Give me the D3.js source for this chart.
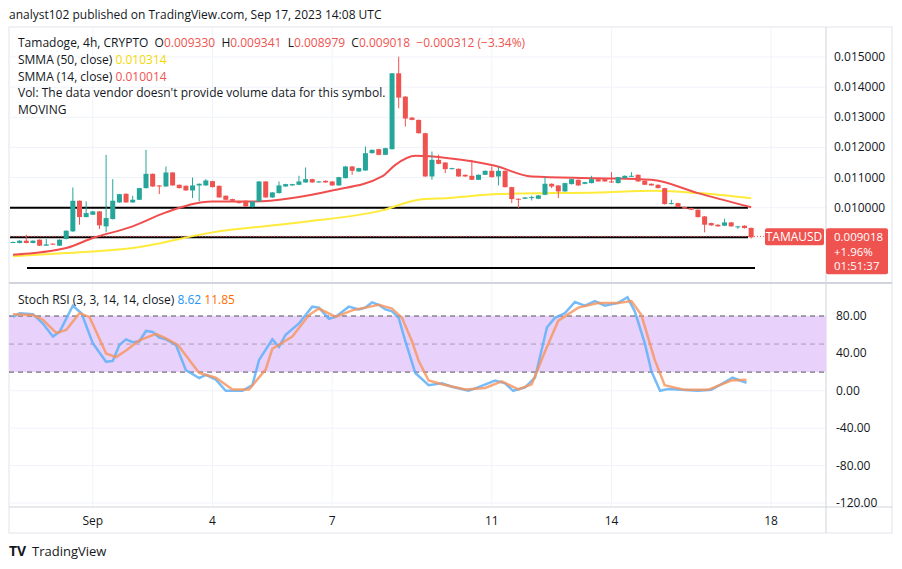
<!DOCTYPE html>
<html>
<head>
<meta charset="utf-8">
<script src="https://cdn.jsdelivr.net/npm/d3@7"></script>
<style>
body { margin: 0; background: #fff; font-family: "Open Sans", "Noto Sans", sans-serif; }
svg text { font-family: "Open Sans", "Noto Sans", sans-serif; }
</style>
</head>
<body>
<svg id="chart" width="902" height="569"></svg>
<script>
// prices in millionths of a dollar, one entry per 4h candle
var openP = [8862,8829,8906,8829,8939,8740,8807,8740,8961,9215,
	10231,9690,9767,9877,9381,9623,10175,10463,10175,10264,
	10650,11125,10739,10705,11169,10761,10727,10573,10739,10739,
	10882,10727,10397,10286,10220,10231,10021,10209,10871,10341,
	10485,10705,10739,10761,10838,10948,10838,10893,10871,10739,
	10981,11368,11202,11235,11809,11942,11754,11942,14459,13686,
	12991,12913,12472,11037,11589,11500,11279,11291,11092,11059,
	10926,11092,11224,11037,11224,10683,10297,10297,10319,10297,
	10429,10794,10739,10540,10783,10926,10793,10816,10948,10948,
	10871,10816,10981,11037,11092,10893,10794,10761,10650,10120,
	10153,10021,9988,9933,9712,9491,9436,9403,9513,9359,
	9403,9330];
var closeP = [8862,8906,8829,8906,8740,8784,8773,8939,9237,10231,
	9690,9822,9877,9414,9657,10231,10451,10175,10264,10650,
	11125,10705,10705,11169,10739,10650,10573,10739,10794,10904,
	10683,10341,10264,10231,10153,10043,10209,10871,10341,10507,
	10739,10783,10783,10871,10948,10838,10871,10838,10739,11015,
	11368,11224,11313,11809,11920,11754,11975,14459,13653,12958,
	12913,12472,11037,11589,11456,11279,11313,11037,11037,10926,
	11092,11224,11015,11224,10683,10286,10264,10341,10352,10407,
	10794,10705,10540,10816,10948,10739,10849,10948,10871,10871,
	10838,11015,11059,11059,10871,10761,10739,10650,10120,10153,
	10021,9966,9933,9690,9436,9414,9381,9513,9381,9381,
	9325,9018];
var highP = [8880,8920,9105,8915,8950,8961,8815,8950,9250,10672,
	10240,10209,9890,9890,11754,10948,10460,10475,10396,10660,
	11920,11135,10750,11368,11180,10770,10740,11003,10805,10948,
	10895,10740,10410,10300,10230,10240,10220,10880,10880,10520,
	10871,10795,10795,11059,11335,10960,10880,10905,10880,11025,
	11380,11380,11325,12030,11930,11955,11990,14470,15011,13700,
	13000,12925,12490,11865,11754,11510,11325,11300,11105,11589,
	11105,11235,11368,11368,11235,10695,10310,10355,10400,10420,
	11015,10805,10750,10830,10960,10940,10860,11059,10960,10960,
	11180,11025,11070,11180,11105,10905,10805,10775,10660,10264,
	10165,10035,10000,9945,9725,9505,9450,9635,9525,9400,
	9415,9341];
var lowP = [8850,8820,8820,8820,8730,8735,8765,8730,8950,9200,
	9436,9680,9760,9292,9182,9610,10165,10165,10165,10255,
	10640,10690,10451,10695,10730,10640,10560,10319,10209,10730,
	10670,10330,10255,10220,10140,10030,10010,10200,10330,10330,
	10475,10695,10730,10750,10828,10828,10828,10828,10728,10728,
	10970,11092,11190,11225,11800,11740,11745,11930,13300,12693,
	12900,12460,11025,10926,11440,11147,11270,11025,11025,10915,
	10915,11080,11000,10739,10670,10153,9988,10285,10240,10285,
	10415,10650,10319,10530,10770,10725,10780,10805,10860,10860,
	10825,10805,10970,11025,10860,10750,10725,10640,10105,10110,
	10010,9955,9920,9675,9182,9400,9370,9390,9370,9300,
	9310,8979];

// SMMA lines: [candle index, price]
var smma14 = [[0,8442],[8,8663],[12,8994],[18,9381],[23,9844],[30,10209],[36,10209],[48,10573],
	[55.5,11037],[57.5,11423],[60.5,11721],[65.5,11644],[72.5,11390],[78,11037],[88,10981],
	[96,10926],[103,10485],[111,10014]];
var smma50 = [[0,8387],[8,8497],[18,8663],[30,9182],[43,9513],[55.5,9911],[61,10264],[65.5,10319],
	[73,10451],[88,10507],[96.5,10562],[103,10485],[111,10314]];

// Stoch RSI %K (blue) and %D (orange): [candle index, value]
var stochK = [[0,79],[1,83],[3,82],[4.5,72],[6,58],[7,63],[9,91],[10.3,83],[12,51],[14,31],[15,32],
	[16,49],[17,55],[18,52],[19,53],[20,64],[21,63],[22,57],[23,55],[24.5,49],[26,22],[28,13.5],
	[29,17],[30.5,12],[32,0],[33,0],[34.5,0],[36,6],[37,33],[39,55],[40,47],[41,60],[43,72],[45,90],
	[46,89],[47.5,77],[48.5,79],[50.5,90],[52,87],[53,89],[54,94.6],[55,92],[56,87],[57,85],[58,78],
	[59,53],[60.5,19],[62.5,6],[64.5,8],[66,4.3],[68.5,0],[70,4],[72.5,11],[74,8],[75.2,0],[77,3.7],
	[78.5,14],[80.3,68],[81.5,78],[83,83],[84.5,95],[86,91],[87.5,96],[89,91],[91,94],[92.4,100],
	[93.5,85],[95,51],[96,21],[97.3,0],[98.5,2],[100.5,1],[103,0],[105,1],[106.5,7],[108.2,14],[110.3,8.62]];
var stochD = [[0,82],[3,81],[4.5,76],[6.5,62],[8,65],[10,83],[11.5,79],[14,40],[15.5,36],[17,43],
	[19,54],[21.5,61],[23,56],[24.8,49],[28,19],[30.5,14],[33,1.4],[35.5,1.4],[38,23],[39,45],[42,58],
	[44.5,81],[46,88],[48.5,79],[51,86],[55,92],[57,88],[58.5,78],[60,53],[61,32],[62.5,11],[64.5,7],
	[68,1.4],[71,3],[73.5,10],[76,1.4],[78,7],[80,42],[82,75],[85,89],[88,94],[91,94],[93,96],[94.5,81],
	[96.5,33],[98,6],[101,1],[104.5,1],[108,11],[110.3,11.85]];

var priceTicks = [0.015, 0.014, 0.013, 0.012, 0.011, 0.010, 0.009];
var stochTicks = [80, 40, 0, -40, -80, -120];
var dateTicks = [{i: 12, t: "Sep"}, {i: 30, t: "4"}, {i: 48, t: "7"}, {i: 72, t: "11"}, {i: 90, t: "14"}, {i: 114, t: "18"}];
var levels = [10000, 9018, 8000];

var svg = d3.select("#chart");
var plotL = 9, plotR = 826, axisR = 892;
var pTop = 27, pBot = 283, sBot = 507, tBot = 533;

var x = d3.scaleLinear().domain([0, 114]).range([13, 13 + 114 * 6.65]);
var y = d3.scaleLinear().domain([0.008, 0.015]).range([268, 57]);
var ys = d3.scaleLinear().domain([-120, 80]).range([503, 316]);
var grid = "#f0f3fa";

// frame + grid
svg.append("rect").attr("x", plotL).attr("y", pTop).attr("width", axisR - plotL).attr("height", tBot - pTop)
	.attr("fill", "#fff").attr("stroke", "#e0e3eb");
dateTicks.forEach(function(d) {
	svg.append("line").attr("x1", x(d.i)).attr("x2", x(d.i)).attr("y1", pTop).attr("y2", sBot).attr("stroke", grid);
});
priceTicks.forEach(function(v) {
	svg.append("line").attr("x1", plotL).attr("x2", plotR).attr("y1", y(v)).attr("y2", y(v)).attr("stroke", grid);
});
stochTicks.forEach(function(v) {
	svg.append("line").attr("x1", plotL).attr("x2", plotR).attr("y1", ys(v)).attr("y2", ys(v)).attr("stroke", grid);
});
svg.append("line").attr("x1", plotL).attr("x2", axisR).attr("y1", pBot).attr("y2", pBot).attr("stroke", "#d1d4dc").attr("stroke-width", 2);
svg.append("line").attr("x1", plotL).attr("x2", axisR).attr("y1", sBot).attr("y2", sBot).attr("stroke", "#d1d4dc");
svg.append("line").attr("x1", plotR).attr("x2", plotR).attr("y1", pTop).attr("y2", tBot).attr("stroke", "#d1d4dc");

// axis labels
priceTicks.slice(0, 6).forEach(function(v) {
	svg.append("text").attr("x", 834).attr("y", y(v) + 4).attr("font-size", 12).attr("fill", "#131722").text(v.toFixed(6));
});
stochTicks.forEach(function(v) {
	svg.append("text").attr("x", 836).attr("y", ys(v) + 4).attr("font-size", 12).attr("fill", "#131722").text(v.toFixed(2));
});
dateTicks.forEach(function(d) {
	svg.append("text").attr("x", x(d.i)).attr("y", 525).attr("text-anchor", "middle").attr("font-size", 12)
		.attr("fill", "#131722").text(d.t);
});

// support/resistance lines
svg.append("line").attr("x1", 10).attr("x2", 748).attr("y1", y(levels[0] / 1e6)).attr("y2", y(levels[0] / 1e6)).attr("stroke", "#000").attr("stroke-width", 2);
svg.append("line").attr("x1", 10).attr("x2", 748).attr("y1", y(levels[1] / 1e6)).attr("y2", y(levels[1] / 1e6)).attr("stroke", "#000").attr("stroke-width", 2);
svg.append("line").attr("x1", 10).attr("x2", 826).attr("y1", y(levels[1] / 1e6) - 1).attr("y2", y(levels[1] / 1e6) - 1)
	.attr("stroke", "#ef5350").attr("stroke-dasharray", "1,2");
svg.append("line").attr("x1", 27).attr("x2", 755).attr("y1", y(levels[2] / 1e6)).attr("y2", y(levels[2] / 1e6)).attr("stroke", "#000").attr("stroke-width", 2);

// SMMA lines
var line = d3.line().x(function(d) { return x(d[0]); }).y(function(d) { return y(d[1] / 1e6); }).curve(d3.curveMonotoneX);
svg.append("path").attr("d", line(smma50)).attr("fill", "none").attr("stroke", "#ffeb3b").attr("stroke-width", 2);
svg.append("path").attr("d", line(smma14)).attr("fill", "none").attr("stroke", "#f04e4e").attr("stroke-width", 2);

// candles
var candles = d3.range(openP.length);
var g = svg.append("g");
candles.forEach(function(i) {
	var o = openP[i] / 1e6, c = closeP[i] / 1e6;
	var col = c >= o ? "#26a69a" : "#ef5350";
	g.append("line").attr("x1", x(i)).attr("x2", x(i)).attr("y1", y(highP[i] / 1e6)).attr("y2", y(lowP[i] / 1e6)).attr("stroke", col);
	g.append("rect").attr("x", x(i) - 2.5).attr("width", 5)
		.attr("y", y(Math.max(o, c))).attr("height", Math.max(1, Math.abs(y(o) - y(c)))).attr("fill", col);
});

// stoch panel
svg.append("rect").attr("x", plotL).attr("width", plotR - plotL).attr("y", ys(80)).attr("height", ys(20) - ys(80)).attr("fill", "#e8d2fc");
[80, 20].forEach(function(v) {
	svg.append("line").attr("x1", plotL).attr("x2", plotR).attr("y1", ys(v)).attr("y2", ys(v)).attr("stroke", "#555").attr("stroke-dasharray", "5,4");
});
svg.append("line").attr("x1", plotL).attr("x2", plotR).attr("y1", ys(50)).attr("y2", ys(50)).attr("stroke", "#a89bb5").attr("stroke-dasharray", "5,4");
var sline = d3.line().x(function(d) { return x(d[0]); }).y(function(d) { return ys(d[1]); }).curve(d3.curveLinear);
svg.append("path").attr("d", sline(stochK)).attr("fill", "none").attr("stroke", "#5fb0f7").attr("stroke-width", 2.5).attr("opacity", 0.85);
svg.append("path").attr("d", sline(stochD)).attr("fill", "none").attr("stroke", "#f7925a").attr("stroke-width", 2.5).attr("opacity", 0.8);

// last price labels
var ly = y(closeP[closeP.length - 1] / 1e6);
svg.append("rect").attr("x", 765).attr("y", ly - 9).attr("width", 59).attr("height", 17).attr("rx", 2).attr("fill", "#ef5350");
svg.append("text").attr("x", 794).attr("y", ly + 4).attr("text-anchor", "middle").attr("font-size", 12).attr("fill", "#fff").text("TAMAUSD");
svg.append("rect").attr("x", 826).attr("y", ly - 9).attr("width", 62).attr("height", 46).attr("rx", 2).attr("fill", "#ef5350");
["0.009018", "+1.96%", "01:51:37"].forEach(function(t, k) {
	svg.append("text").attr("x", 834).attr("y", ly + 4 + k * 14.5).attr("font-size", 11.5).attr("fill", "#fff").text(t);
});

// header and legends
svg.append("text").attr("x", 9).attr("y", 19).attr("font-size", 12).attr("fill", "#131722")
	.text("analyst102 published on TradingView.com, Sep 17, 2023 14:08 UTC");
var red = "#ef5350", gray = "#131722";
var t1 = svg.append("text").attr("x", 18).attr("y", 47).attr("font-size", 12);
[["Tamadoge, 4h, CRYPTO  ", gray], ["O", gray], ["0.009330  ", red], ["H", gray], ["0.009341  ", red],
 ["L", gray], ["0.008979  ", red], ["C", gray], ["0.009018  ", red], ["\u22120.000312 (\u22123.34%)", red]]
	.forEach(function(p) { t1.append("tspan").attr("fill", p[1]).attr("xml:space", "preserve").text(p[0]); });
var t2 = svg.append("text").attr("x", 18).attr("y", 64).attr("font-size", 12);
t2.append("tspan").attr("fill", gray).text("SMMA (50, close) ");
t2.append("tspan").attr("fill", "#f5d800").text(" 0.010314");
var t3 = svg.append("text").attr("x", 18).attr("y", 81).attr("font-size", 12);
t3.append("tspan").attr("fill", gray).text("SMMA (14, close) ");
t3.append("tspan").attr("fill", red).text(" 0.010014");
svg.append("text").attr("x", 18).attr("y", 97).attr("font-size", 12).attr("fill", gray).text("Vol: The data vendor doesn't provide volume data for this symbol.");
svg.append("text").attr("x", 18).attr("y", 114).attr("font-size", 12).attr("fill", gray).text("MOVING");
var t4 = svg.append("text").attr("x", 18).attr("y", 304).attr("font-size", 12);
t4.append("tspan").attr("fill", gray).text("Stoch RSI (3, 3, 14, 14, close) ");
t4.append("tspan").attr("fill", "#2196f3").text(" 8.62 ");
t4.append("tspan").attr("fill", "#ff6d00").text(" 11.85");

// footer logo
svg.append("text").attr("x", 9).attr("y", 556).attr("font-size", 14).attr("font-weight", "bold").attr("fill", "#131722").text("TV");
svg.append("text").attr("x", 32).attr("y", 556).attr("font-size", 13).attr("fill", "#131722").text("TradingView");
</script>
</body>
</html>
